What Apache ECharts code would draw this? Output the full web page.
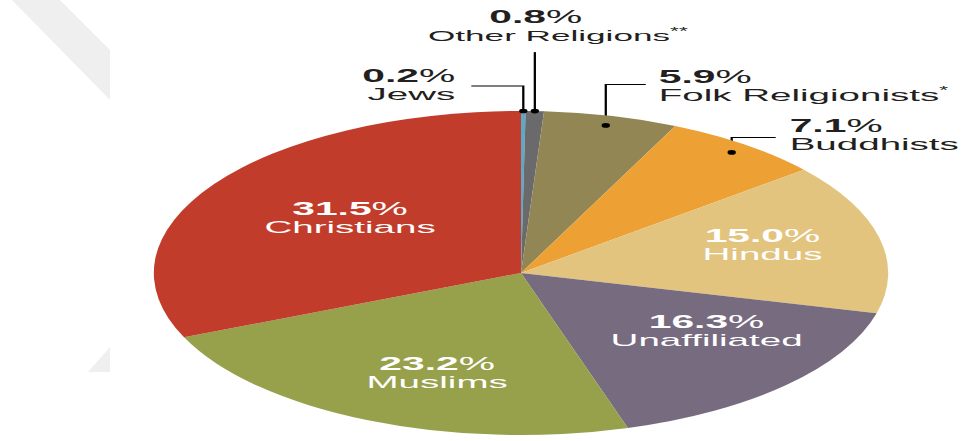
<!DOCTYPE html>
<html><head><meta charset="utf-8">
<script src="https://cdn.jsdelivr.net/npm/echarts@6/dist/echarts.min.js"></script>
<style>
html,body{margin:0;padding:0;background:#fff;overflow:hidden;}
#wrap{width:961px;height:441px;position:relative;overflow:hidden;background:#fff;}
#chart{position:absolute;left:0;top:0;width:424px;height:441px;transform:scaleX(2.26651);transform-origin:0 0;}
</style></head><body>
<div id="wrap"><div id="chart"></div></div>
<script>
// ---- data ----
const categories = ['Jews', 'Other Religions', 'Folk Religionists', 'Buddhists', 'Hindus', 'Unaffiliated', 'Muslims', 'Christians'];
const shares = [0.2, 0.8, 5.9, 7.1, 15.0, 16.3, 23.2, 31.5];
const footnoteMarks = ['', '**', '*', '', '', '', '', ''];
const sliceColors = ['#5ba8c8', '#6a6a6c', '#918654', '#eda033', '#e2c47f', '#776b80', '#97a04b', '#c23c2b'];

// ---- layout (the picture is stretched horizontally) ----
const S = 961 / 424;
const X = v => v / S;
const CX = X(521), CY = 273, R = 162;
// inside labels: radius and angular nudge (degrees) from the slice's mid angle
const insideCfg = {
  'Christians':   { r: 93,  turn: 2.5,  dy: -1 },
  'Muslims':      { r: 105, turn: -4.2, dy: 1 },
  'Unaffiliated': { r: 100, turn: -8.7, dy: 0 },
  'Hindus':       { r: 110, turn: -1.8, dy: -1 }
};
const outsideCfg = {
  'Jews':              { k: 1.0,  rise: 25, run: X(-52), gapX: X(-16), gapY: -1, align: 'right' },
  'Other Religions':   { k: 1.0,  rise: 59, run: 0,      gapX: X(23),  gapY: -8, align: 'center', above: true, nameSize: 15.5, pctPad: X(44) },
  'Folk Religionists': { k: 0.94, rise: 41, run: X(40),  gapX: X(13),  gapY: 1,  align: 'left' },
  'Buddhists':         { k: 0.94, rise: 15, run: X(44),  gapX: X(14),  gapY: -3, align: 'left' }
};
const FONT = "'Liberation Sans', Arial, sans-serif";

function dirFrom(px, py) {
  const dx = px - CX, dy = py - CY;
  const len = Math.sqrt(dx * dx + dy * dy) || 1;
  return [dx / len, dy / len];
}

function mainLabelLayout(p) {
  const name = categories[p.dataIndex];
  const ic = insideCfg[name];
  if (ic) {
    const r = p.labelRect;
    const d = dirFrom(r.x + r.width / 2, r.y + r.height / 2);
    const th = Math.atan2(d[0], -d[1]) + ic.turn * Math.PI / 180;
    return { x: CX + Math.sin(th) * ic.r, y: CY - Math.cos(th) * ic.r + ic.dy, align: 'center', verticalAlign: 'middle' };
  }
  const c = outsideCfg[name];
  const p0 = p.labelLinePoints[0];
  const ax = CX + (p0[0] - CX) * c.k, ay = CY + (p0[1] - CY) * c.k;
  const ey = ay - c.rise, ex = ax + c.run;
  const pts = [[ax, ay], [ax, ey], [ex, ey]];
  return {
    x: ex + c.gapX, y: ey + c.gapY, align: c.align,
    verticalAlign: c.above ? 'bottom' : 'middle',
    labelLinePoints: pts
  };
}

function dotLabelLayout(p) {
  const name = categories[p.dataIndex];
  const c = outsideCfg[name];
  if (!c) return {};
  const r = p.labelRect;
  const d = dirFrom(r.x + r.width / 2, r.y + r.height / 2);
  return { x: CX + d[0] * R * c.k, y: CY + d[1] * R * c.k, align: 'center', verticalAlign: 'middle' };
}

function makeRich(nameSize, pctPad) {
  return {
    b: { fontFamily: FONT, fontWeight: 'bold', fontSize: 18, lineHeight: 19 },
    p: { fontFamily: FONT, fontSize: 18, lineHeight: 19, padding: [0, pctPad || 0, 0, 0] },
    n: { fontFamily: FONT, fontSize: nameSize, lineHeight: 18 },
    s: { fontFamily: FONT, fontSize: 10, lineHeight: 18, verticalAlign: 'top', padding: [0, 0, 6, 0] }
  };
}

const mainData = categories.map((name, i) => {
  const inside = insideCfg[name] != null;
  const oc = outsideCfg[name];
  return {
    name: name,
    value: shares[i],
    itemStyle: { color: sliceColors[i] },
    label: {
      position: inside ? 'inside' : 'outside',
      color: inside ? '#ffffff' : '#231f20',
      rich: makeRich(oc && oc.nameSize ? oc.nameSize : 17, oc && oc.pctPad)
    },
    labelLine: { show: !inside }
  };
});

const dotData = categories.map((name, i) => ({
  name: name,
  value: shares[i],
  label: { show: outsideCfg[name] != null }
}));

const chart = echarts.init(document.getElementById('chart'), null, { renderer: 'svg' });
chart.setOption({
  animation: false,
  backgroundColor: '#ffffff',
  graphic: [
    { type: 'polygon', silent: true, z: -10,
      shape: { points: [[X(12), 0], [X(60), 0], [X(110), 50], [X(110), 100]] },
      style: { fill: '#efefef' } },
    { type: 'polygon', silent: true, z: -10,
      shape: { points: [[X(88), 372], [X(110), 347], [X(110), 372]] },
      style: { fill: '#efefef' } }
  ],
  series: [
    {
      type: 'pie',
      center: [CX, CY],
      radius: R,
      startAngle: 90,
      clockwise: true,
      avoidLabelOverlap: false,
      silent: true,
      itemStyle: { borderWidth: 0 },
      label: {
        show: true,
        formatter: (prm) => '{b|' + prm.value.toFixed(1) + '}{p|%}\n{n|' + prm.name + '}' +
          (footnoteMarks[prm.dataIndex] ? '{s|' + footnoteMarks[prm.dataIndex] + '}' : ''),
        rich: makeRich(17)
      },
      labelLine: { show: true, length: 10, length2: 10, smooth: false, lineStyle: { color: '#000000', width: 1 } },
      labelLayout: mainLabelLayout,
      data: mainData
    },
    {
      type: 'pie',
      center: [CX, CY],
      radius: R,
      startAngle: 90,
      clockwise: true,
      avoidLabelOverlap: false,
      silent: true,
      itemStyle: { color: 'rgba(0,0,0,0)', borderWidth: 0 },
      label: {
        show: false, position: 'inside', formatter: ' ',
        width: 3.6, height: 4.6, padding: 0, backgroundColor: '#000000', borderRadius: 2.3
      },
      labelLine: { show: false },
      labelLayout: dotLabelLayout,
      data: dotData
    }
  ]
});
</script>
</body></html>
